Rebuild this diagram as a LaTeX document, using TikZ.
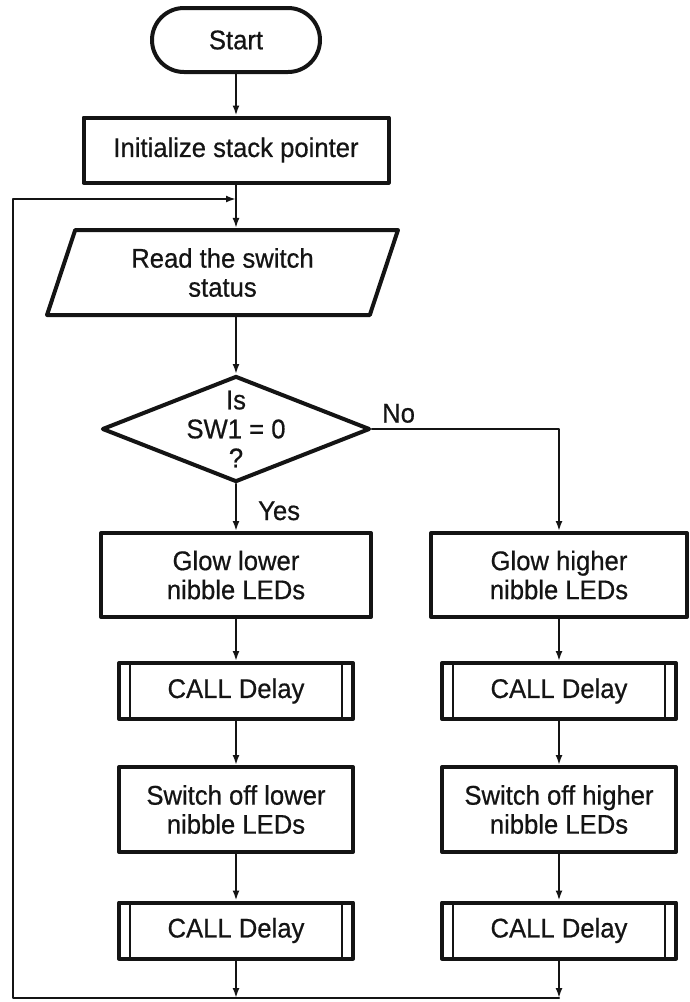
\documentclass[tikz,border=0pt]{standalone}
\usepackage{fontspec}
\setmainfont{Liberation Sans}[FakeStretch=0.95,FakeBold=0.6]
\usetikzlibrary{arrows.meta,calc,positioning,shapes.geometric}
\definecolor{flowInk}{HTML}{141414}
\definecolor{flowPaper}{HTML}{FFFFFF}

\begin{document}
\begin{tikzpicture}[x=1pt,y=-1pt,>={Latex[length=10pt,width=7pt]},line cap=round,line join=round]
\path[fill=flowPaper] (0,0) rectangle (689,1002);
\useasboundingbox (0,0) rectangle (689,1002);
\tikzset{txt/.style={text=flowInk,font=\fontsize{27}{29}\selectfont,align=center},lbl/.style={txt,inner sep=0pt},flow/.style={draw=flowInk,line width=2.3pt},box/.style={txt,draw=flowInk,line width=4pt,rectangle,inner sep=0pt},term/.style={box,rounded corners=32pt,minimum width=168pt,minimum height=64pt},io/.style={box,trapezium,trapezium left angle=60,trapezium right angle=120,trapezium stretches body,minimum width=351pt,minimum height=85pt},decide/.style={draw=flowInk,line width=4pt,diamond,minimum width=268pt,minimum height=106pt,inner sep=0pt},taskbox/.style={box,minimum width=#1,minimum height=84pt},callbox/.style={box,minimum width=234pt,minimum height=56pt,path picture={\draw[flowInk,line width=2.3pt] ([xshift=11pt]path picture bounding box.north west) -- ([xshift=11pt]path picture bounding box.south west) ([xshift=-11pt]path picture bounding box.north east) -- ([xshift=-11pt]path picture bounding box.south east);}}}
\node[term] (start) at (236,40) {Start};
\node[box,minimum width=305pt,minimum height=65pt] (init) at (236,150) {Initialize stack pointer};
\node[io] (read) at (222.5,272.5) {Read the switch\\status};
\node[decide] (dec) at (236,429) {};
\node[lbl] (decText) at (dec) {Is\\SW1 = 0\\?};
\node[taskbox=270pt] (glowL) at (236,575) {Glow lower\\nibble LEDs};
\node[taskbox=256pt] (glowH) at (559,575) {Glow higher\\nibble LEDs};
\node[callbox] (callL1) at (236,691) {CALL Delay};
\node[callbox] (callH1) at (559,691) {CALL Delay};
\node[taskbox=234pt,minimum height=85pt] (offL) at (236,809.5) {Switch off lower\\nibble LEDs};
\node[taskbox=234pt,minimum height=85pt] (offH) at (559,809.5) {Switch off higher\\nibble LEDs};
\node[callbox] (callL2) at (236,930.5) {CALL Delay};
\node[callbox] (callH2) at (559,930.5) {CALL Delay};
\coordinate (merge) at (236,199);
\coordinate (loopCorner) at (13,998);
\draw[flow,->] (start) -- (init);
\draw[flow] (init.south) -- (merge);
\draw[flow,->] (merge) -- (merge |- read.north);
\draw[flow,->] (read.south -| dec.north) -- (dec.north);
\draw[flow,->] (dec.south) -- (glowL.north);
\node[lbl,anchor=base west] (yesLbl) at ([xshift=22pt,yshift=-36pt]dec.south) {Yes};
\draw[flow,->] (dec.east) -- (dec.east -| glowH.north) -- (glowH.north);
\node[lbl,anchor=south west] (noLbl) at ([xshift=10pt,yshift=6pt]dec.east) {No};
\draw[flow,->] (glowL) -- (callL1);
\draw[flow,->] (callL1) -- (offL);
\draw[flow,->] (offL) -- (callL2);
\draw[flow,->] (glowH) -- (callH1);
\draw[flow,->] (callH1) -- (offH);
\draw[flow,->] (offH) -- (callH2);
\draw[flow,->] (callL2) -- (callL2.south |- loopCorner);
\draw[flow,->] (callH2) -- (callH2.south |- loopCorner);
\draw[flow,->] (callH2.south |- loopCorner) -- (loopCorner) -- (loopCorner |- merge) -- (merge);
\end{tikzpicture}
\end{document}
